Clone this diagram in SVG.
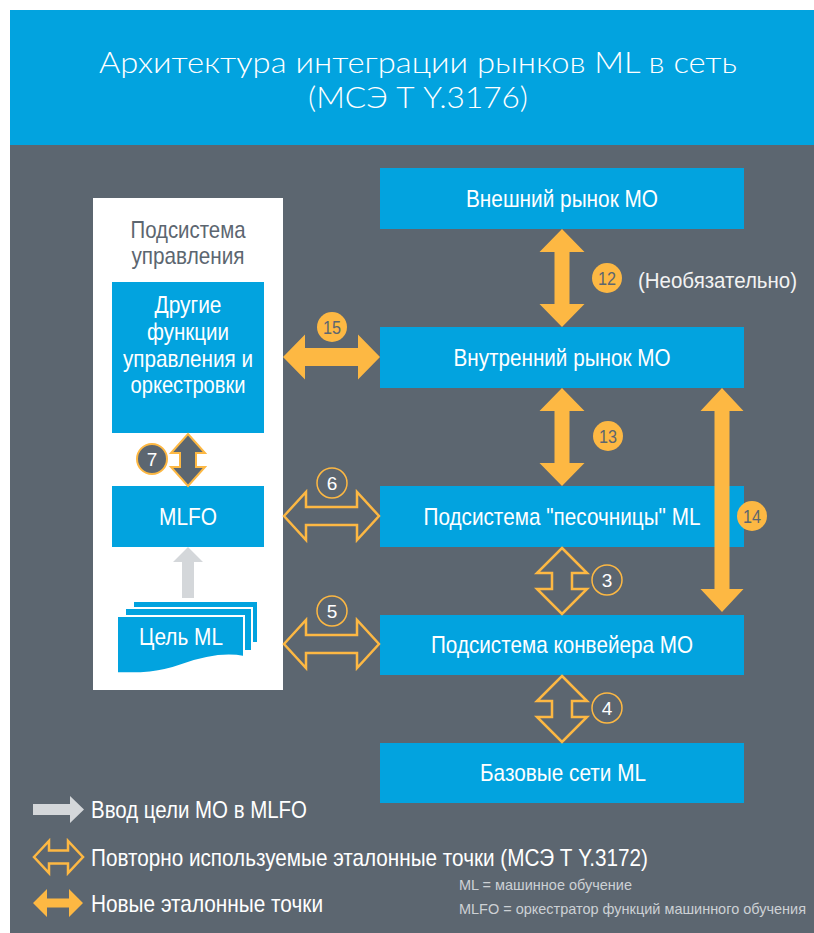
<svg xmlns="http://www.w3.org/2000/svg" width="814" height="933" viewBox="0 0 814 933">
<defs>
<style>
.t{font-family:"Liberation Sans",Arial,sans-serif;}
.box{fill:#02A3DF;}
.bt{fill:#ffffff;font-size:24px;text-anchor:middle;}
.solid{fill:#FDB843;}
.outl{fill:none;stroke:#FDB843;stroke-width:2.5;stroke-linejoin:miter;}
.cs{fill:#FDB843;}
.cst{fill:#5C6670;font-size:19px;text-anchor:middle;}
.co{fill:none;stroke:#FDB843;stroke-width:1.5;}
.cot{fill:#ffffff;font-size:19px;text-anchor:middle;}
.leg{fill:#ffffff;font-size:24px;}
.small{fill:#CDD1D5;font-size:14.6px;}
</style>
</defs>
<rect x="0" y="0" width="814" height="933" fill="#ffffff"/>
<rect x="10" y="145" width="804" height="788" fill="#5C6670"/>
<g id="header">
<rect x="10" y="10" width="804" height="135" fill="#02A3DF"/>
<text x="418" y="73" fill="#ffffff" font-family="Lato,'Open Sans',sans-serif" font-weight="300" font-size="29" text-anchor="middle" textLength="638" lengthAdjust="spacingAndGlyphs">Архитектура интеграции рынков ML в сеть</text>
<text x="418" y="108" fill="#ffffff" font-family="Lato,'Open Sans',sans-serif" font-weight="300" font-size="29" text-anchor="middle" textLength="220" lengthAdjust="spacingAndGlyphs">(МСЭ Т Y.3176)</text>
</g>
<g id="mgmt-subsystem">
<rect x="93" y="198" width="190" height="492" fill="#ffffff"/>
<text class="t" x="188" y="238" fill="#5C6670" font-size="24" text-anchor="middle" textLength="115" lengthAdjust="spacingAndGlyphs">Подсистема</text>
<text class="t" x="188" y="264" fill="#5C6670" font-size="24" text-anchor="middle" textLength="113" lengthAdjust="spacingAndGlyphs">управления</text>
</g>
<g id="other-functions">
<rect class="box" x="112" y="282" width="152" height="151"/>
<text class="t bt" x="188" y="313" textLength="67" lengthAdjust="spacingAndGlyphs">Другие</text>
<text class="t bt" x="188" y="340" textLength="82" lengthAdjust="spacingAndGlyphs">функции</text>
<text class="t bt" x="188" y="367" textLength="130" lengthAdjust="spacingAndGlyphs">управления и</text>
<text class="t bt" x="188" y="393" textLength="115" lengthAdjust="spacingAndGlyphs">оркестровки</text>
</g>
<g id="mlfo">
<rect class="box" x="112" y="486" width="152" height="61"/>
<text class="t bt" x="188" y="525" textLength="58" lengthAdjust="spacingAndGlyphs">MLFO</text>
</g>
<g id="ml-intent">
<rect x="133" y="601" width="125" height="42" fill="#02A3DF" stroke="#ffffff" stroke-width="2"/>
<rect x="125" y="608" width="127" height="43" fill="#02A3DF" stroke="#ffffff" stroke-width="2"/>
<path d="M117 616 H244 V657 C224 653 204 657 182 665 C160 673 140 674 117 673 Z" fill="#02A3DF" stroke="#ffffff" stroke-width="2"/>
<text class="t bt" x="181" y="645" textLength="84" lengthAdjust="spacingAndGlyphs">Цель ML</text>
</g>
<g id="external-market">
<rect class="box" x="380" y="168" width="364" height="61"/>
<text class="t bt" x="562" y="207" textLength="192" lengthAdjust="spacingAndGlyphs">Внешний рынок МО</text>
</g>
<g id="internal-market">
<rect class="box" x="380" y="327" width="364" height="61"/>
<text class="t bt" x="562" y="366" textLength="217" lengthAdjust="spacingAndGlyphs">Внутренний рынок МО</text>
</g>
<g id="sandbox">
<rect class="box" x="380" y="486" width="364" height="61"/>
<text class="t bt" x="562" y="525" textLength="277" lengthAdjust="spacingAndGlyphs">Подсистема "песочницы" ML</text>
</g>
<g id="pipeline">
<rect class="box" x="380" y="615" width="364" height="60"/>
<text class="t bt" x="562" y="653" textLength="262" lengthAdjust="spacingAndGlyphs">Подсистема конвейера МО</text>
</g>
<g id="base-networks">
<rect class="box" x="380" y="743" width="364" height="60"/>
<text class="t bt" x="563" y="781" textLength="166" lengthAdjust="spacingAndGlyphs">Базовые сети ML</text>
</g>
<g id="connectors">
<path d="M188 547 L203 562 L194 562 L194 598 L182 598 L182 562 L173 562 Z" fill="#D4D7DA"/>
<path d="M188 434 L205 453 L196 453 L196 467 L205 467 L188 486 L171 467 L180 467 L180 453 L171 453 Z" fill="#5C6670" stroke="#FDB843" stroke-width="2"/>
<circle cx="152" cy="459" r="15" fill="#5C6670" stroke="#FDB843" stroke-width="2"/>
<text class="t cot" x="152" y="466">7</text>
<path class="solid" d="M283 357 L305 334.5 L305 348 L358 348 L358 334.5 L380 357 L358 379.5 L358 366 L305 366 L305 379.5 Z"/>
<circle class="cs" cx="332" cy="327" r="15"/>
<text class="t cst" x="332" y="334" textLength="18" lengthAdjust="spacingAndGlyphs">15</text>
<path class="outl" d="M284 516 L306 492 L306 507 L357 507 L357 492 L379 516 L357 540 L357 525 L306 525 L306 540 Z"/>
<circle class="co" cx="332" cy="483" r="15"/>
<text class="t cot" x="332" y="490">6</text>
<path class="outl" d="M284 644 L306 620 L306 635 L357 635 L357 620 L379 644 L357 668 L357 653 L306 653 L306 668 Z"/>
<circle class="co" cx="332" cy="611" r="15"/>
<text class="t cot" x="332" y="618">5</text>
<path class="solid" d="M562 229 L584.5 252 L569.5 252 L569.5 304 L584.5 304 L562 327 L539.5 304 L554.5 304 L554.5 252 L539.5 252 Z"/>
<circle class="cs" cx="607" cy="278" r="15"/>
<text class="t cst" x="607" y="285" textLength="18" lengthAdjust="spacingAndGlyphs">12</text>
<text class="t" x="638" y="288" fill="#F2F2F2" font-size="22" textLength="159" lengthAdjust="spacingAndGlyphs">(Необязательно)</text>
<path class="solid" d="M562 388 L584.5 411 L569.5 411 L569.5 463 L584.5 463 L562 486 L539.5 463 L554.5 463 L554.5 411 L539.5 411 Z"/>
<circle class="cs" cx="608" cy="436" r="15"/>
<text class="t cst" x="608" y="443" textLength="18" lengthAdjust="spacingAndGlyphs">13</text>
<path class="solid" d="M722 388 L743.5 411 L729.5 411 L729.5 589 L743.5 589 L722 612 L700.5 589 L714.5 589 L714.5 411 L700.5 411 Z"/>
<circle class="cs" cx="752" cy="516" r="15"/>
<text class="t cst" x="752" y="523" textLength="18" lengthAdjust="spacingAndGlyphs">14</text>
<path class="outl" d="M562 548 L587 573 L572 573 L572 589 L587 589 L562 614 L537 589 L552 589 L552 573 L537 573 Z"/>
<circle class="co" cx="607" cy="580" r="15"/>
<text class="t cot" x="607" y="587">3</text>
<path class="outl" d="M562 676 L587 701 L572 701 L572 717 L587 717 L562 742 L537 717 L552 717 L552 701 L537 701 Z"/>
<circle class="co" cx="607" cy="708" r="15"/>
<text class="t cot" x="607" y="715">4</text>
</g>
<g id="legend">
<path d="M33 804 H70 V796 L84 809.5 L70 823 V815 H33 Z" fill="#D4D7DA"/>
<text class="t leg" x="91" y="818" textLength="216" lengthAdjust="spacingAndGlyphs">Ввод цели МО в MLFO</text>
<path class="outl" stroke-width="2" d="M34 857 L49 841 L49 850.5 L68 850.5 L68 841 L83 857 L68 873 L68 863.5 L49 863.5 L49 873 Z"/>
<text class="t leg" x="91" y="866" textLength="557" lengthAdjust="spacingAndGlyphs">Повторно используемые эталонные точки (МСЭ Т Y.3172)</text>
<path class="solid" d="M33 903 L47 889 L47 898.5 L69 898.5 L69 889 L83 903 L69 917 L69 907.5 L47 907.5 L47 917 Z"/>
<text class="t leg" x="91" y="912" textLength="232" lengthAdjust="spacingAndGlyphs">Новые эталонные точки</text>
<text class="t small" x="459" y="890" textLength="173" lengthAdjust="spacingAndGlyphs">ML = машинное обучение</text>
<text class="t small" x="459" y="914" textLength="347" lengthAdjust="spacingAndGlyphs">MLFO = оркестратор функций машинного обучения</text>
</g>
</svg>
